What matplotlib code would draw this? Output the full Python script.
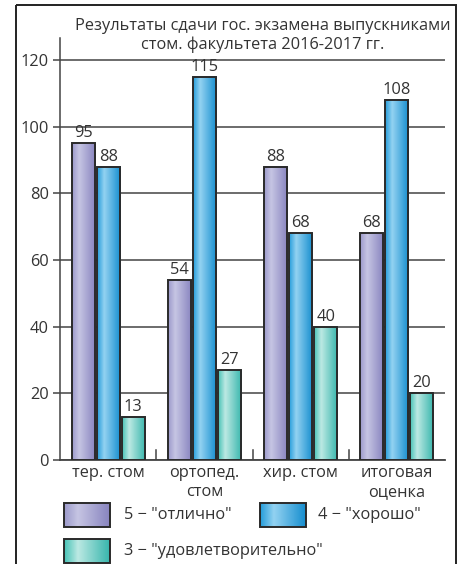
import numpy as np
import matplotlib
matplotlib.use("Agg")
import matplotlib.pyplot as plt
from matplotlib.colors import LinearSegmentedColormap
from matplotlib.patches import Rectangle

# Data
categories = ["тер. стом", "ортопед.\nстом", "хир. стом", "итоговая\nоценка"]
series_names = ['5 − "отлично"', '4 − "хорошо"', '3 − "удовлетворительно"']
grade5 = [95, 54, 88, 68]
grade4 = [88, 115, 68, 108]
grade3 = [13, 27, 40, 20]
series_values = [grade5, grade4, grade3]
yticks = [0, 20, 40, 60, 80, 100, 120]
title = "Результаты сдачи гос. экзамена выпускниками\nстом. факультета 2016-2017 гг."

# Cylinder-like shading for each series: edge, highlight, edge
gradients = [
    ["#9c9acb", "#c6c5e3", "#8884bf"],
    ["#259ddb", "#93d2f1", "#168ecf"],
    ["#47c2b6", "#bce9e3", "#38b6ad"],
]
cmaps = [LinearSegmentedColormap.from_list(f"g{i}", [(0, c[0]), (0.3, c[1]), (1, c[2])])
         for i, c in enumerate(gradients)]

plt.rcParams["font.family"] = ["Open Sans", "DejaVu Sans"]
text_color = "#333333"
edge_color = "#2a2a2a"
fs = 11.8

W, H = 463, 564
fig = plt.figure(figsize=(W / 100, H / 100), dpi=100)

# Overlay in pixel coordinates for frame, title and legend
ov = fig.add_axes([0, 0, 1, 1], zorder=0)
ov.set_xlim(0, W)
ov.set_ylim(H, 0)
ov.axis("off")

ax = fig.add_axes([60 / W, (H - 460) / H, 385 / W, 422 / H], zorder=1)
ax.patch.set_alpha(0)

grad = np.linspace(0, 1, 64).reshape(1, -1)
x = np.arange(len(categories))
bar_w = 0.24
offsets = [-0.26, 0.0, 0.26]

for s, (vals, cmap, off) in enumerate(zip(series_values, cmaps, offsets)):
    for xi, v in zip(x, vals):
        x0 = xi + off - bar_w / 2
        ax.imshow(grad, cmap=cmap, extent=(x0, x0 + bar_w, 0, v),
                  aspect="auto", zorder=3, interpolation="bilinear")
        ax.add_patch(Rectangle((x0, 0), bar_w, v, fill=False,
                               edgecolor=edge_color, linewidth=1.4, zorder=4))
        ax.text(xi + off, v + 0.6, str(v), ha="center", va="bottom",
                fontsize=fs, color=text_color, zorder=5)

ax.set_xlim(-0.5, len(categories) - 0.5)
ax.set_ylim(0, 126.6)
ax.set_yticks(yticks)
ax.set_yticklabels([str(t) for t in yticks], fontsize=fs, color=text_color)
ax.yaxis.grid(True, color="#444444", linewidth=1.1, zorder=1)
ax.set_axisbelow(True)
ax.tick_params(axis="y", length=5, width=1.1, color="#444444", pad=3)

# Category labels and separators
ax.set_xticks([])
for xi, lab in zip(x, categories):
    ax.text(xi, -1.6, lab, ha="center", va="top", fontsize=fs,
            color=text_color, linespacing=1.2)
for b in np.arange(0.5, len(categories) - 0.5, 1.0):
    ax.plot([b, b], [0, 3], color="#444444", linewidth=1.1, zorder=2)

for side in ["top", "right"]:
    ax.spines[side].set_visible(False)
ax.spines["left"].set_color("#444444")
ax.spines["left"].set_linewidth(1.1)
ax.spines["bottom"].set_color("#444444")
ax.spines["bottom"].set_linewidth(1.3)

# Outer frame
ov.add_patch(Rectangle((16, 5), 440, 600, fill=False, edgecolor="#222222", linewidth=1.4))

# Title
ov.text(263, 35.5, title, ha="center", va="center", fontsize=fs,
        color=text_color, linespacing=1.15)

# Legend with shaded swatches
legend_pos = [(64, 503, 124), (260, 503, 318), (64, 539, 124)]
for name, cmap, (lx, ly, tx) in zip(series_names, cmaps, legend_pos):
    ov.imshow(grad, cmap=cmap, extent=(lx, lx + 46, ly + 24, ly),
              aspect="auto", interpolation="bilinear", zorder=2)
    ov.add_patch(Rectangle((lx, ly), 46, 24, fill=False,
                           edgecolor=edge_color, linewidth=1.4, zorder=3))
    ov.text(tx, ly + 12, name, ha="left", va="center", fontsize=fs,
            color=text_color)

ov.set_xlim(0, W)
ov.set_ylim(H, 0)

fig.savefig("out.png", dpi=100)
